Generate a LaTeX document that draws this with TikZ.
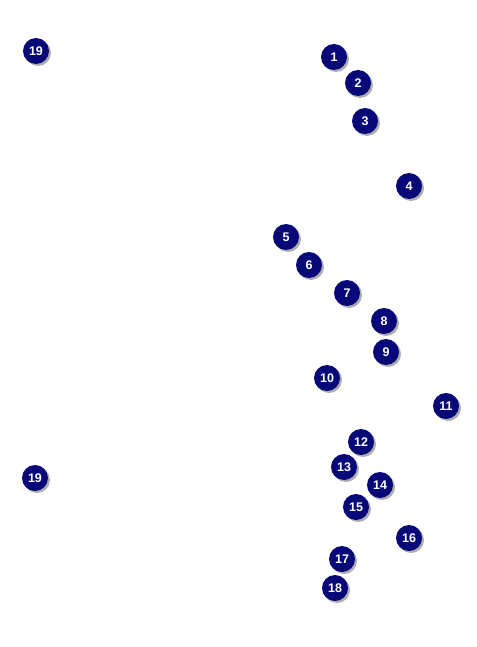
\documentclass[tikz,border=0pt]{standalone}
\usepackage{fontspec}
\setmainfont{Liberation Sans}
\usepackage{xcolor}
\usepackage{tikz}
\usetikzlibrary{shadows}
\definecolor{calloutblue}{RGB}{8,8,120}

\begin{document}
\begin{tikzpicture}[
    x=1pt, y=-1pt,
    callout/.style={circle, fill=calloutblue, text=white, inner sep=0pt, minimum size=26pt,
        font=\fontsize{12.5}{12.5}\selectfont\bfseries,
        drop shadow={shadow xshift=2pt, shadow yshift=-2pt, fill=black!45, opacity=0.7}}
]

\useasboundingbox (0,0) rectangle (476,647);

% left column
\node[callout] (n19a) at (36,51) {19};
\node[callout] (n19b) at (35,478) {19};

% upper group
\node[callout] (n1) at (334,57) {1};
\node[callout] (n2) at (358,83) {2};
\node[callout] (n3) at (365,121) {3};
\node[callout] (n4) at (409,186) {4};

% middle group
\node[callout] (n5) at (286,237) {5};
\node[callout] (n6) at (309,265) {6};
\node[callout] (n7) at (347,293) {7};
\node[callout] (n8) at (384,321) {8};
\node[callout] (n9) at (386,352) {9};
\node[callout] (n10) at (327,378) {10};
\node[callout] (n11) at (446,406) {11};

% lower group
\node[callout] (n12) at (361,442) {12};
\node[callout] (n13) at (344,467) {13};
\node[callout] (n14) at (380,485) {14};
\node[callout] (n15) at (356,507) {15};
\node[callout] (n16) at (409,538) {16};
\node[callout] (n17) at (342,559) {17};
\node[callout] (n18) at (335,588) {18};

\end{tikzpicture}
\end{document}
